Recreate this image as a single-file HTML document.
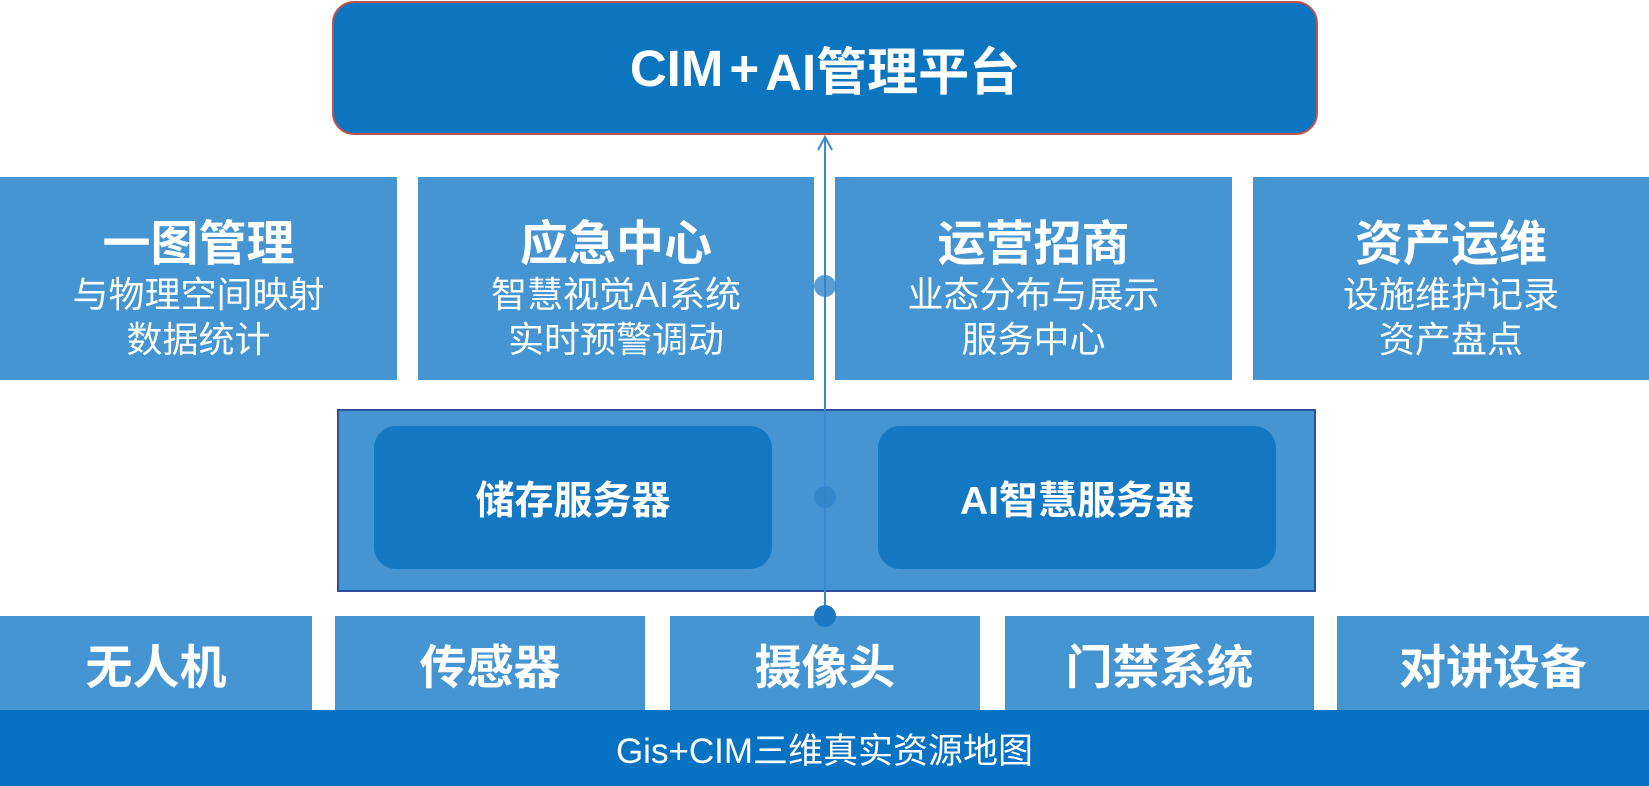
<!DOCTYPE html>
<html><head><meta charset="utf-8"><style>
*{margin:0;padding:0;box-sizing:border-box}
body{width:1649px;height:786px;background:#fff;position:relative;overflow:hidden;font-family:"Liberation Sans","Noto Sans CJK SC",sans-serif;color:#fff}
.a{position:absolute;display:flex;align-items:center;justify-content:center;text-align:center}
.r2{background:#4495d1;top:177px;height:203px;flex-direction:column;padding-top:30px}
.r2 b{font-size:48px;line-height:54px;margin-top:-8px}
.r2 span{font-size:36px;line-height:45px}
.bt{background:#4495d1;top:616px;height:94px;font-weight:bold;font-size:47px}
.in{background:#1478c2;top:426px;height:143px;border-radius:22px;font-weight:bold;font-size:39px}
</style></head><body>
<div class="a" style="left:332px;top:1px;width:986px;height:134px;background:#0c75c0;border:2px solid #c0504d;border-radius:22px;font-weight:bold;font-size:51px">CIM<span style="margin:0 6px">+</span>AI管理平台</div>

<div class="a r2" style="left:0;width:397px"><b>一图管理</b><span>与物理空间映射<br>数据统计</span></div>
<div class="a r2" style="left:418px;width:396px"><b>应急中心</b><span>智慧视觉AI系统<br>实时预警调动</span></div>
<div class="a r2" style="left:835px;width:397px"><b>运营招商</b><span>业态分布与展示<br>服务中心</span></div>
<div class="a r2" style="left:1253px;width:396px"><b>资产运维</b><span>设施维护记录<br>资产盘点</span></div>

<div style="position:absolute;left:337px;top:409px;width:979px;height:183px;background:#4495d1;border:2px solid #2f4e9e"></div>
<div class="a in" style="left:374px;width:398px">储存服务器</div>
<div class="a in" style="left:878px;width:398px">AI智慧服务器</div>

<div class="a bt" style="left:0;width:312px">无人机</div>
<div class="a bt" style="left:335px;width:310px">传感器</div>
<div class="a bt" style="left:670px;width:310px">摄像头</div>
<div class="a bt" style="left:1005px;width:309px">门禁系统</div>
<div class="a bt" style="left:1337px;width:312px">对讲设备</div>

<div class="a" style="left:0;top:710px;width:1649px;height:76px;background:#0872c2;font-size:35px">Gis+CIM三维真实资源地图</div>

<svg style="position:absolute;left:0;top:0" width="1649" height="786">
<line x1="825" y1="137" x2="825" y2="616" stroke="#3a8ad0" stroke-width="2"/>
<polyline points="818,150 825,137 832,150" fill="none" stroke="#3a8ad0" stroke-width="2"/>
<circle cx="825" cy="286" r="11" fill="#2f85c9" opacity="0.8"/>
<circle cx="825" cy="497" r="11" fill="#2f85c9" opacity="0.8"/>
<circle cx="825" cy="616" r="11" fill="#1a78c5"/>
</svg>
</body></html>
